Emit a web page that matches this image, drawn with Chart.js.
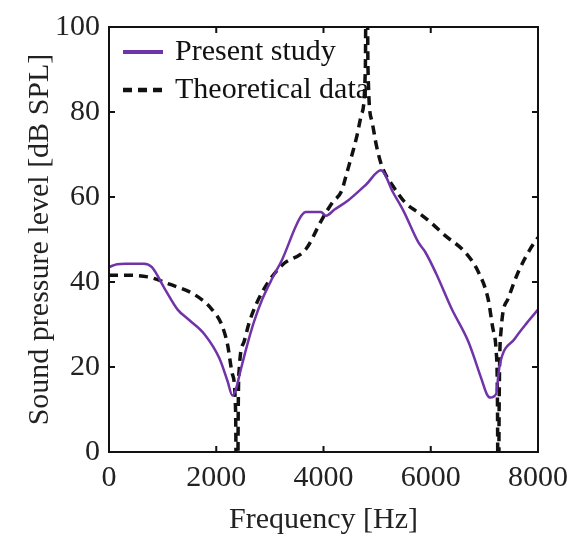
<!DOCTYPE html>
<html>
<head>
<meta charset="utf-8">
<script src="https://cdn.jsdelivr.net/npm/chart.js@4"></script>
<style>
  html,body{margin:0;padding:0;background:#fff;}
  #wrap{width:576px;height:542px;position:relative;}
</style>
</head>
<body>
<div id="wrap"><canvas id="splChart"></canvas></div>
<script>
// valores leídos a ojo del gráfico original
const freqPresent=[0,150,300,650,800,1040,1280,1500,1780,2060,2210,2300,2360,2450,2560,2700,2860,3050,3230,3490,3600,3670,3950,4050,4200,4470,4800,5070,5300,5500,5770,5900,6100,6390,6700,6940,7050,7110,7220,7260,7290,7570,7800,8000];
const splPresent=[43.5,44.2,44.3,44.3,43.5,38.4,33.5,31,27.7,22,16.7,13.3,14.5,19,24.4,30.5,36,41,45.3,53.3,55.8,56.5,56.5,55.6,57,59.3,63,66.3,61,56.5,49.3,47,42,33.7,26,17.4,13.5,12.8,13.7,18,20.7,26.7,30.5,33.5];
const freqTheory=[0,300,720,1170,1600,1910,2100,2210,2300,2360,2390,2410,2430,2520,2620,2860,3230,3670,3970,4160,4340,4420,4620,4710,4780,4805,4830,4900,4990,5090,5300,5530,5770,6000,6270,6640,6890,7070,7160,7220,7245,7260,7275,7310,7440,7630,7870,8000];
const splTheory=[41.6,41.6,41.2,39.3,37,33.7,30,25.3,18.4,10,-40,10,19.8,26,30.7,37.7,44,47.7,54.7,58.6,61.5,65,74.2,79.5,90,140,90,78,71.9,67.2,62.5,58.6,56.3,54,50.9,47,42.3,36,29,23.7,10,-40,10,28.4,36,42.3,48.1,50.5];
const xTicks=[0,2000,4000,6000,8000];
const yTicks=[0,20,40,60,80,100];

const serif='"Liberation Serif","Times New Roman",serif';
const purple='#7033a8';

// marco, marcas hacia adentro (estilo matlab) y leyenda dentro del área
const framePlugin={
  id:'frame',
  afterDraw(chart){
    const {ctx,chartArea:a,scales:{x,y}}=chart;
    ctx.save();
    ctx.strokeStyle='#111';ctx.lineWidth=2;
    ctx.strokeRect(a.left,a.top,a.right-a.left,a.bottom-a.top);
    const tl=6;
    xTicks.forEach(v=>{
      const px=x.getPixelForValue(v);
      ctx.beginPath();ctx.moveTo(px,a.bottom);ctx.lineTo(px,a.bottom-tl);
      ctx.moveTo(px,a.top);ctx.lineTo(px,a.top+tl);ctx.stroke();
    });
    yTicks.forEach(v=>{
      const py=y.getPixelForValue(v);
      ctx.beginPath();ctx.moveTo(a.left,py);ctx.lineTo(a.left+tl,py);
      ctx.moveTo(a.right,py);ctx.lineTo(a.right-tl,py);ctx.stroke();
    });
    // leyenda
    const ds=chart.data.datasets;
    const rows=[52,90];
    ctx.font='30px '+serif;ctx.textBaseline='middle';ctx.fillStyle='#111';
    ds.forEach((d,i)=>{
      const yy=rows[i];
      ctx.strokeStyle=d.borderColor;ctx.lineWidth=i===0?4:4.5;
      ctx.setLineDash(d.borderDash||[]);
      ctx.beginPath();ctx.moveTo(a.left+14,yy);ctx.lineTo(a.left+54,yy);ctx.stroke();
      ctx.setLineDash([]);
      ctx.fillText(d.label,a.left+66,yy);
    });
    ctx.restore();
  }
};

new Chart(document.getElementById('splChart').getContext('2d'),{
  type:'line',
  data:{datasets:[
    {label:'Present study',data:freqPresent.map((f,i)=>({x:f,y:splPresent[i]})),borderColor:purple,borderWidth:2.5,pointRadius:0,cubicInterpolationMode:'monotone',fill:false},
    {label:'Theoretical data',data:freqTheory.map((f,i)=>({x:f,y:splTheory[i]})),borderColor:'#111',borderWidth:3.5,borderDash:[9,6],pointRadius:0,cubicInterpolationMode:'monotone',fill:false},
  ]},
  options:{responsive:true,maintainAspectRatio:false,animation:false,
    layout:{padding:{left:0,right:36,top:22,bottom:0}},
    plugins:{legend:{display:false},tooltip:{enabled:false}},
    scales:{
      x:{type:'linear',min:0,max:8000,
        afterBuildTicks:s=>{s.ticks=xTicks.map(v=>({value:v}));},
        afterFit:s=>{s.height=90;},
        grid:{display:false,drawTicks:false},border:{display:false},
        ticks:{color:'#222',padding:8,maxRotation:0,callback:v=>String(v),font:{family:serif,size:30,lineHeight:1.2}},
        title:{display:true,text:'Frequency [Hz]',color:'#222',padding:{top:0,bottom:4},font:{family:serif,size:30,lineHeight:1.2}}},
      y:{min:0,max:100,
        afterBuildTicks:s=>{s.ticks=yTicks.map(v=>({value:v}));},
        afterFit:s=>{s.width=109;},
        grid:{display:false,drawTicks:false},border:{display:false},
        ticks:{color:'#222',padding:9,callback:v=>String(v),font:{family:serif,size:30,lineHeight:1.2}},
        title:{display:true,text:'Sound pressure level [dB SPL]',color:'#222',padding:{top:22,bottom:0},font:{family:serif,size:30,lineHeight:1.2}}}
    }},
  plugins:[framePlugin]
});
</script>
</body>
</html>
